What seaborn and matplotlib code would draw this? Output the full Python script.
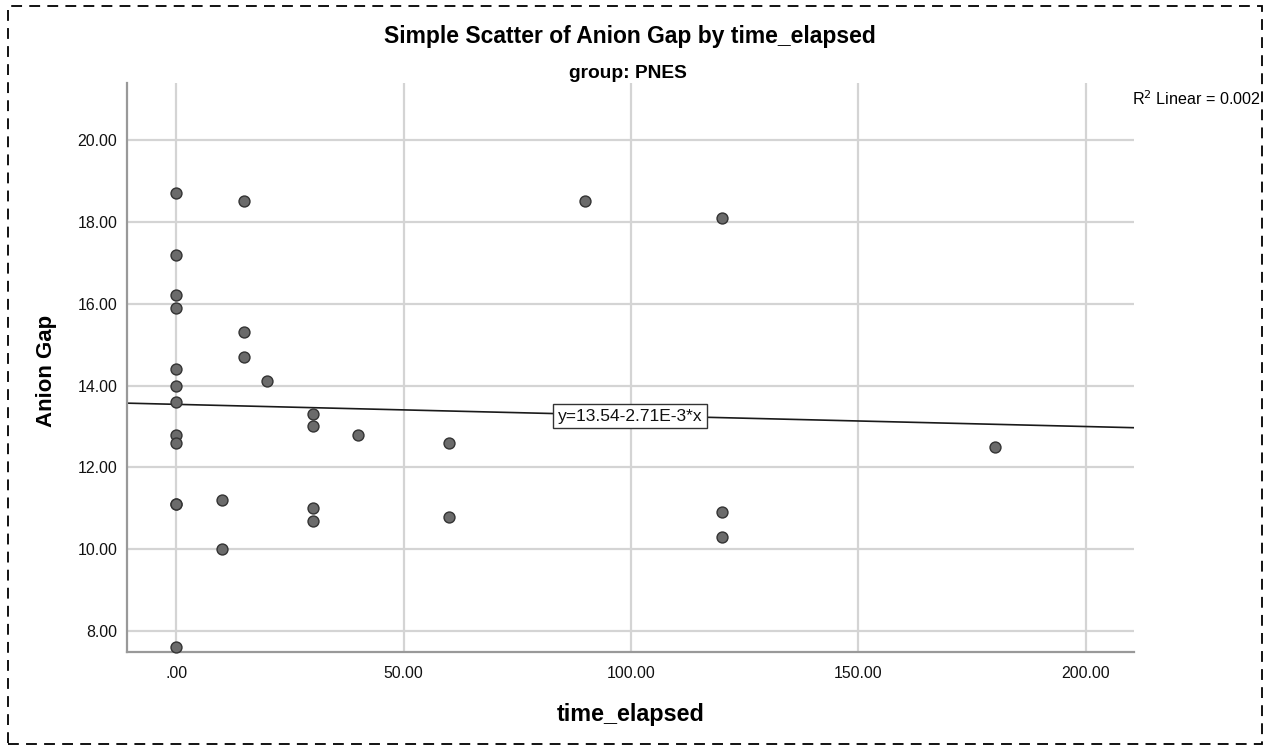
import matplotlib
matplotlib.use("Agg")
import matplotlib.pyplot as plt
import seaborn as sns
import pandas as pd
from matplotlib.patches import Rectangle

# Data
time_elapsed = [0, 0, 0, 0, 0, 0, 0, 0, 0, 0, 0, 0,
                10, 10,
                15, 15, 15,
                20,
                30, 30, 30, 30,
                40,
                60, 60,
                90,
                120, 120, 120,
                180]
anion_gap = [18.7, 17.2, 16.2, 15.9, 14.4, 14.0, 13.6, 12.8, 12.6, 11.1, 11.1, 7.6,
             11.2, 10.0,
             18.5, 15.3, 14.7,
             14.1,
             13.3, 13.0, 11.0, 10.7,
             12.8,
             12.6, 10.8,
             18.5,
             18.1, 10.9, 10.3,
             12.5]

fit_intercept = 13.54
fit_slope = -2.71e-3
r2_text = "0.002"
x_ticks = [0, 50, 100, 150, 200]
x_tick_labels = [".00", "50.00", "100.00", "150.00", "200.00"]
y_ticks = [8, 10, 12, 14, 16, 18, 20]
y_tick_labels = ["8.00", "10.00", "12.00", "14.00", "16.00", "18.00", "20.00"]

df = pd.DataFrame({"time_elapsed": time_elapsed, "Anion Gap": anion_gap})

sns.set_theme(style="white")
plt.rcParams["font.family"] = ["Liberation Sans", "DejaVu Sans"]
plt.rcParams["text.color"] = "black"
plt.rcParams["axes.labelcolor"] = "black"

fig = plt.figure(figsize=(12.69, 7.53), dpi=100)
ax = fig.add_axes([127 / 1269, 1 - 652 / 753, (1134 - 127) / 1269, (652 - 83) / 753])

ax.set_xlim(-10.8, 210.6)
ax.set_ylim(7.49, 21.39)

for xv in x_ticks:
    ax.axvline(xv, color="#d4d4d4", lw=1.6, zorder=0)
for yv in y_ticks:
    ax.axhline(yv, color="#d4d4d4", lw=1.6, zorder=0)

sns.scatterplot(data=df, x="time_elapsed", y="Anion Gap", ax=ax, s=62,
                color="#6b6b6b", edgecolor="#333333", linewidth=1.0,
                zorder=3, clip_on=False)

ax.axline((0, fit_intercept), slope=fit_slope, color="#1a1a1a", lw=1.2, zorder=2)

ax.text((630 - 127) / 1007, (652 - 416) / 569, "y=13.54-2.71E-3*x",
        transform=ax.transAxes, ha="center", va="center", fontsize=12.5,
        color="#111111", zorder=5,
        bbox=dict(boxstyle="square,pad=0.25", facecolor="white",
                  edgecolor="#333333", linewidth=1.0))

ax.set_xticks(x_ticks)
ax.set_xticklabels(x_tick_labels, fontsize=11.4)
ax.set_yticks(y_ticks)
ax.set_yticklabels(y_tick_labels, fontsize=11.4)
ax.tick_params(axis="both", length=0, pad=7, colors="#111111")
ax.tick_params(axis="x", pad=10)

for side in ["top", "right"]:
    ax.spines[side].set_visible(False)
for side in ["left", "bottom"]:
    ax.spines[side].set_visible(True)
    ax.spines[side].set_color("#999999")
    ax.spines[side].set_linewidth(1.6)

ax.set_xlabel("time_elapsed", fontsize=16.8, fontweight="bold", color="black")
ax.set_ylabel("Anion Gap", fontsize=16, fontweight="bold", color="black")
ax.xaxis.set_label_coords(0.5, (652 - 714) / 569)
ax.xaxis.label.set_va("center")
ax.xaxis.label.set_ha("center")
ax.yaxis.set_label_coords((46 - 127) / 1007, (652 - 371) / 569)
ax.yaxis.label.set_va("center")
ax.yaxis.label.set_ha("center")

fig.text(630 / 1269, 1 - 36 / 753, "Simple Scatter of Anion Gap by time_elapsed",
         ha="center", va="center", fontsize=16.5, fontweight="bold", color="black")
fig.text(628 / 1269, 1 - 74 / 753, "group: PNES", ha="center", va="center",
         fontsize=13.8, fontweight="bold", color="black")
fig.text(1261 / 1269, 1 - 99 / 753, r"R$^{2}$ Linear = " + r2_text, ha="right",
         va="center", fontsize=11.6, color="black")

fig.patches.append(Rectangle((8 / 1269, 1 - 744 / 753), (1262 - 8) / 1269,
                             (744 - 6) / 753, transform=fig.transFigure,
                             fill=False, edgecolor="black", lw=1.3,
                             linestyle=(0, (6, 4))))

fig.savefig("out.png", dpi=100)
